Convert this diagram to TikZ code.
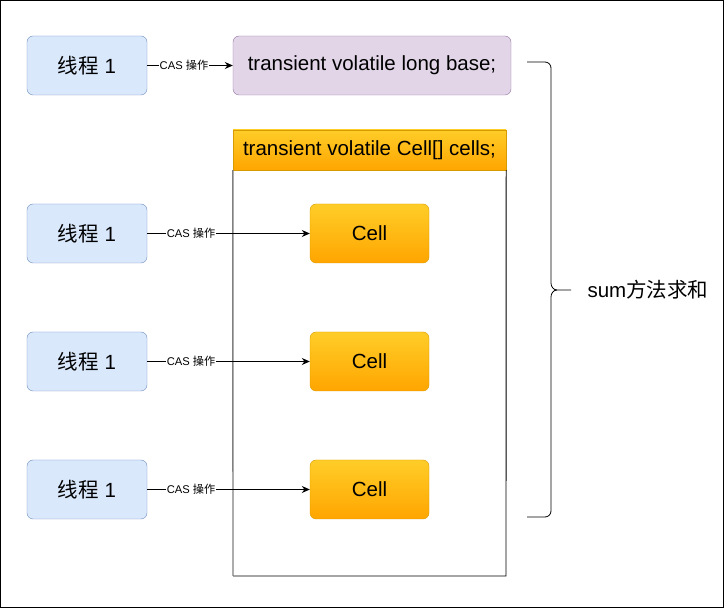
\documentclass[tikz,border=0pt]{standalone}
\usepackage{fontspec}
\setmainfont{Liberation Sans}
\newfontfamily\cjk{Noto Sans CJK SC}
\usetikzlibrary{arrows.meta}
\definecolor{ThreadFill}{HTML}{DAE8FC}
\definecolor{ThreadLine}{HTML}{6C8EBF}
\definecolor{BaseFill}{HTML}{E1D5E7}
\definecolor{BaseLine}{HTML}{9673A6}
\definecolor{CellTop}{HTML}{FFCD28}
\definecolor{CellBot}{HTML}{FFA500}
\definecolor{CellLine}{HTML}{D79B00}

\tikzset{
  threadbox/.style={draw=ThreadLine, fill=ThreadFill, rounded corners=6pt,
    minimum width=120pt, minimum height=59pt, font=\fontsize{20.5}{24}\selectfont},
  basebox/.style={draw=BaseLine, fill=BaseFill, rounded corners=6pt,
    minimum width=278pt, minimum height=59pt, font=\fontsize{20.5}{24}\selectfont},
  cellbox/.style={draw=CellLine, top color=CellTop, bottom color=CellBot, rounded corners=6pt,
    minimum width=119pt, minimum height=59pt, font=\fontsize{20.5}{24}\selectfont},
  headbox/.style={draw=CellLine, top color=CellTop, bottom color=CellBot,
    minimum width=273pt, minimum height=40pt, font=\fontsize{20.5}{24}\selectfont},
  casarrow/.style={-{Stealth[length=8pt,width=7pt]}, line width=0.8pt},
  caslabel/.style={fill=white, inner sep=1pt, font=\fontsize{11.2}{13}\selectfont}
}

\begin{document}
\begin{tikzpicture}[x=1pt, y=-1pt]

  % Rahmen (724 x 609 px)
  \useasboundingbox (0,0) rectangle (724,609);
  \draw[line width=1.2pt] (0.6,0.6) rectangle (723.4,607.4);

  % oberste Zeile: Thread -> base
  \node[threadbox] (thread1) at (87,65.5) {{\cjk 线程} 1};
  \node[basebox] (base) at (372,65.5) {transient volatile long base;};
  \draw[casarrow] (thread1) -- node[caslabel, pos=0.43] {CAS {\cjk 操作}} (base);

  % Cell-Array: Kopf und Koerper
  \node[headbox] (head) at (369.5,150) {transient volatile Cell[] cells;};
  \draw[line width=0.9pt] (head.south east) -- (506,576) -- (233,576);
  \draw[gray, line width=1.4pt] (head.south west) -- (233,576);

  % Makro fuer eine Zeile: 1=Name, 2=y
  \def\cellrow#1#2{
    \node[threadbox] (thread#1) at (87,#2) {{\cjk 线程} 1};
    \node[cellbox] (cell#1) at (369.5,#2) {Cell};
    \draw[casarrow] (thread#1) -- node[caslabel, pos=0.27] {CAS {\cjk 操作}} (cell#1);
  }

  \cellrow{2}{233.5}
  \cellrow{3}{361.5}
  \cellrow{4}{489.5}

  % geschweifte Klammer rechts
  \coordinate (tip) at (571,290);
  \draw[line width=0.8pt] (527,62) -- (545,62) to[out=0,in=90] (551,68) -- (551,283)
    to[out=-90,in=180] (557,290) -- (tip);
  \draw[line width=0.8pt] (557,290) to[out=180,in=90] (551,297) -- (551,511)
    to[out=-90,in=0] (545,517) -- (527,517);
  \node[anchor=west, font=\fontsize{20.5}{24}\selectfont] (sum) at (584,290) {sum{\cjk 方法求和}};

\end{tikzpicture}
\end{document}
